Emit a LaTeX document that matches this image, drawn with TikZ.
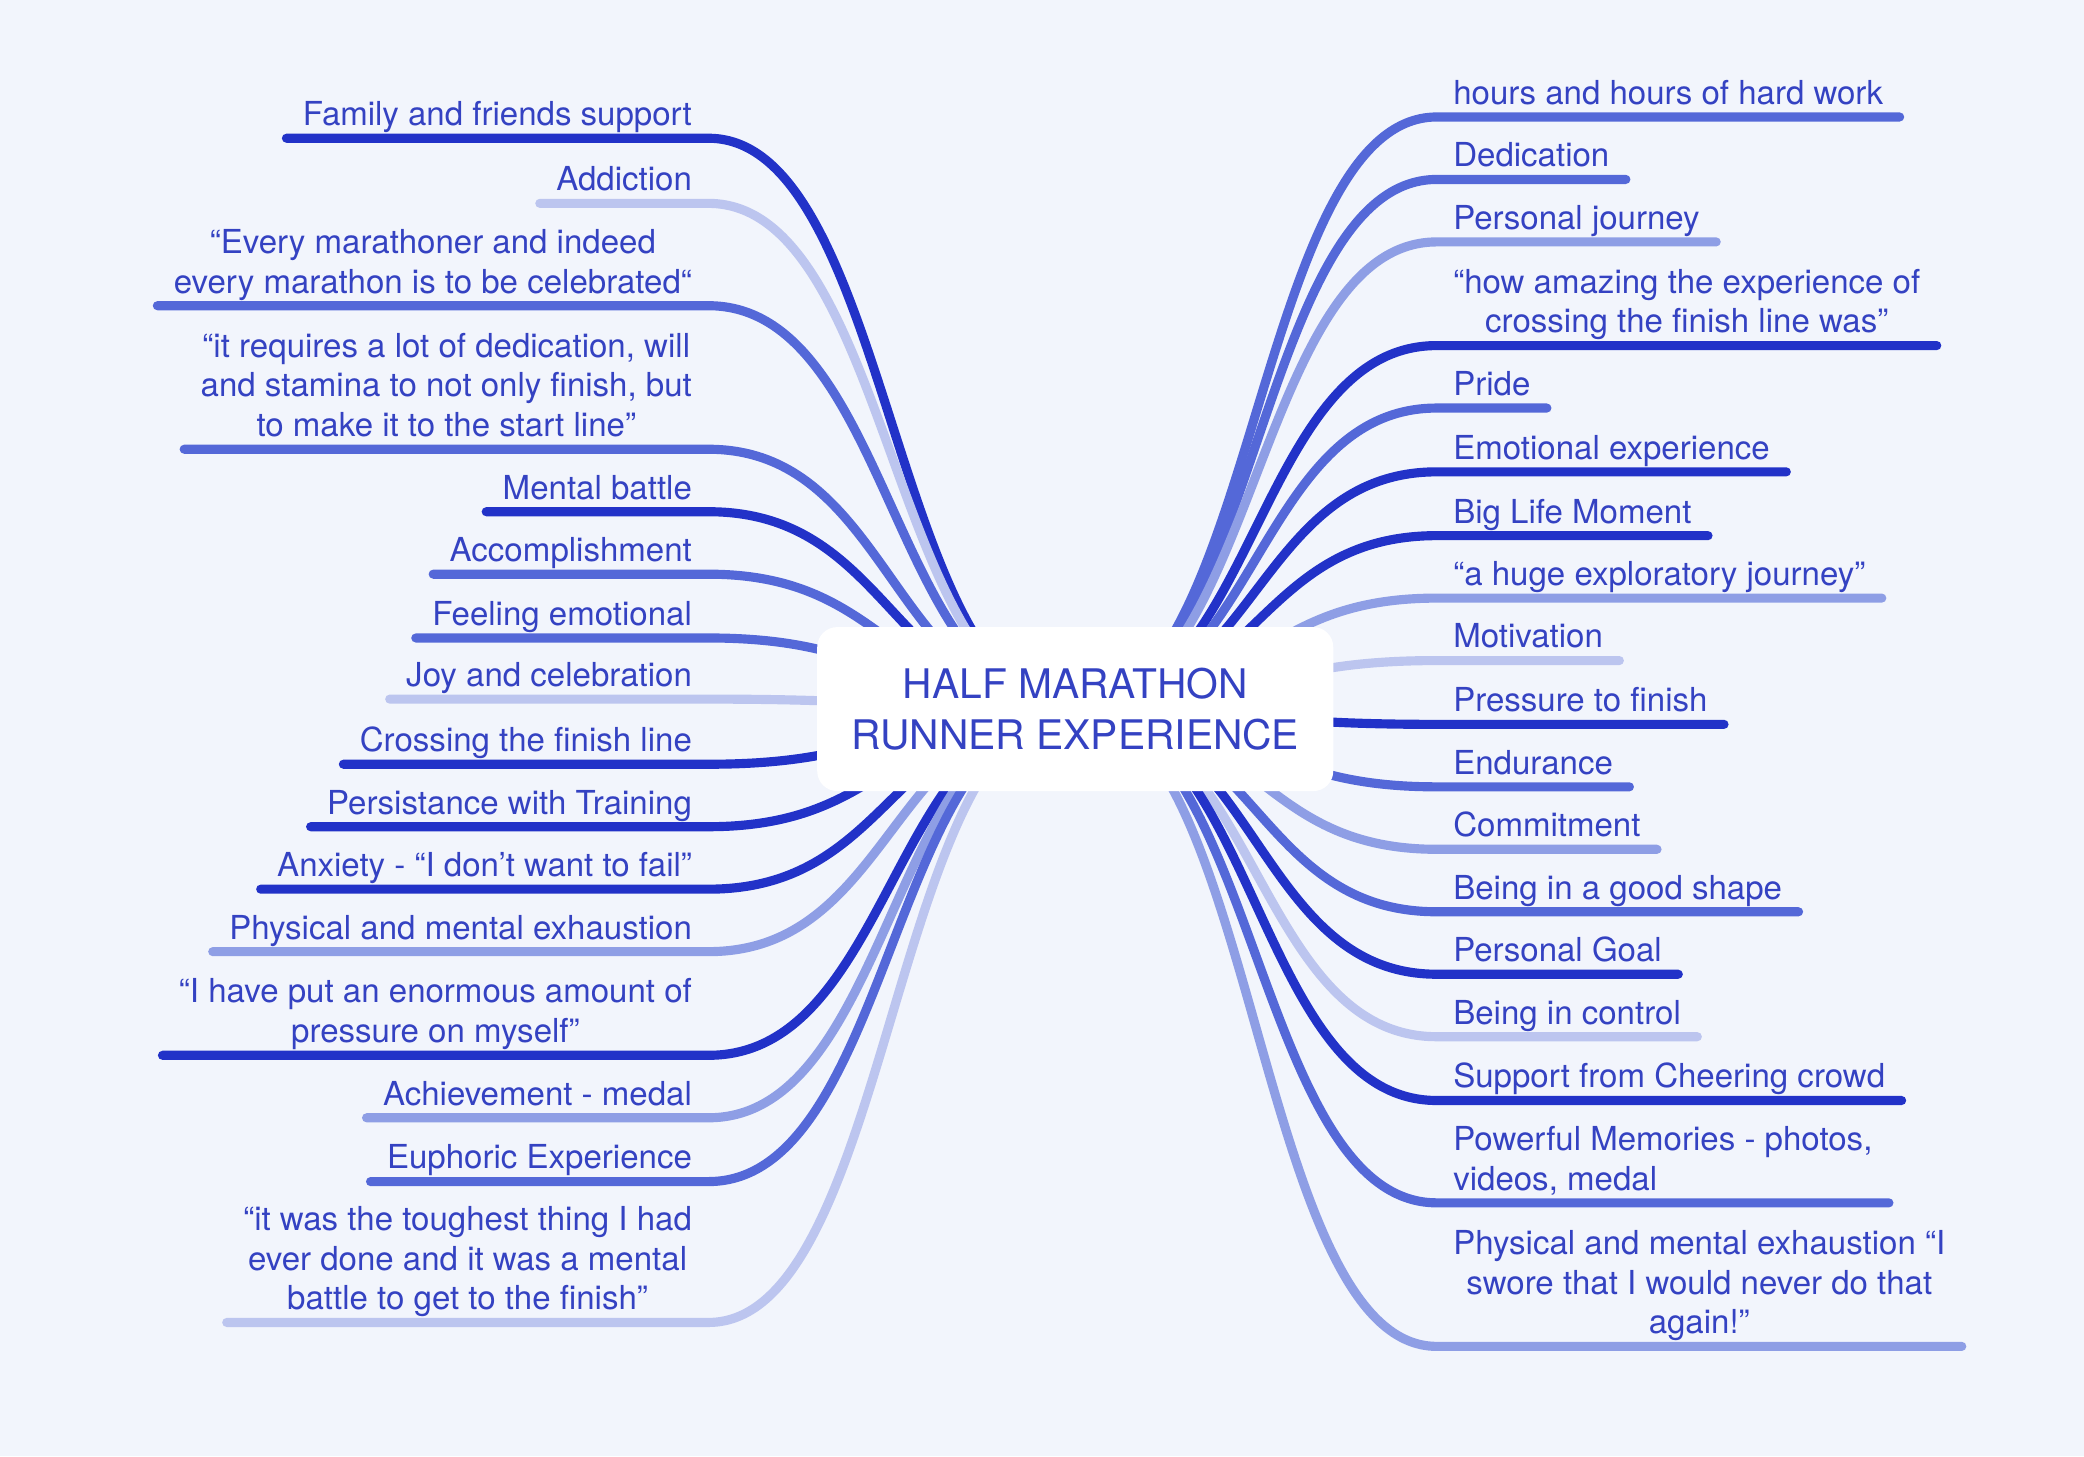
\documentclass[tikz,border=0pt]{standalone}
\usepackage{fontspec}
\setmainfont{TeX Gyre Heros}
\usepackage{xcolor}
\usetikzlibrary{positioning}
\definecolor{paper}{HTML}{F2F5FC}
\definecolor{ink}{HTML}{3442C2}
\definecolor{deep}{HTML}{2232C8}
\definecolor{mid}{HTML}{5468D8}
\definecolor{soft}{HTML}{8E9EE5}
\definecolor{pale}{HTML}{BCC5EF}
\pgfdeclarelayer{lines}
\pgfsetlayers{lines,main}
\tikzset{
hub/.style={fill=white, rounded corners=2mm, minimum width=51.6mm, minimum height=16.4mm, align=center, text=ink, font=\fontsize{11.6}{14.7}\selectfont},
leaf/.style={text=ink, align=center, inner xsep=4.5pt, inner ysep=0pt, font=\fontsize{9.4}{11.3}\selectfont, execute at end node=\strut},
lleaf/.style={leaf, anchor=south east},
rleaf/.style={leaf, anchor=south west},
branch/.style={line width=2.6pt, line cap=round},
deep line/.style={branch, draw=deep}, mid line/.style={branch, draw=mid},
soft line/.style={branch, draw=soft}, pale line/.style={branch, draw=pale}
}

\begin{document}
\begin{tikzpicture}[x=0.1329mm, y=-0.1329mm]
\useasboundingbox (0,0) rectangle (1568,1095.5);
\node[hub] (hub) at (809,533.5) {HALF MARATHON\\RUNNER EXPERIENCE};

\node[lleaf] (fam) at (533,104) {Family and friends support};
\node[lleaf] (addict) at (533,153) {Addiction};
\node[lleaf] (every) at (533,230) {“Every marathoner and indeed\\every marathon is to be celebrated“};
\node[lleaf] (req) at (533,338) {“it requires a lot of dedication, will\\and stamina to not only finish, but\\to make it to the start line”};
\node[lleaf] (mental) at (533,385) {Mental battle};
\node[lleaf] (accomp) at (533,432) {Accomplishment};
\node[lleaf] (feel) at (533,480) {Feeling emotional};
\node[lleaf] (joy) at (533,526) {Joy and celebration};
\node[lleaf] (cross) at (533,575) {Crossing the finish line};
\node[lleaf] (persist) at (533,622) {Persistance with Training};
\node[lleaf] (anx) at (533,669) {Anxiety - “I don’t want to fail”};
\node[lleaf] (exh) at (533,716) {Physical and mental exhaustion};
\node[lleaf] (press) at (533,794) {“I have put an enormous amount of\\pressure on myself”};
\node[lleaf] (achieve) at (533,841) {Achievement - medal};
\node[lleaf] (euph) at (533,889) {Euphoric Experience};
\node[lleaf] (tough) at (533,995) {“it was the toughest thing I had\\ever done and it was a mental\\battle to get to the finish”};

\node[rleaf] (hours) at (1081,88) {hours and hours of hard work};
\node[rleaf] (dedic) at (1081,135) {Dedication};
\node[rleaf] (journey) at (1081,182) {Personal journey};
\node[rleaf] (amazing) at (1081,260) {“how amazing the experience of\\crossing the finish line was”};
\node[rleaf] (pride) at (1081,307) {Pride};
\node[rleaf] (emo) at (1081,355) {Emotional experience};
\node[rleaf] (moment) at (1081,403) {Big Life Moment};
\node[rleaf] (explore) at (1081,450) {“a huge exploratory journey”};
\node[rleaf] (motiv) at (1081,497) {Motivation};
\node[rleaf] (pfinish) at (1081,545) {Pressure to finish};
\node[rleaf] (endur) at (1081,592) {Endurance};
\node[rleaf] (commit) at (1081,639) {Commitment};
\node[rleaf] (shape) at (1081,686) {Being in a good shape};
\node[rleaf] (goal) at (1081,733) {Personal Goal};
\node[rleaf] (control) at (1081,780) {Being in control};
\node[rleaf] (crowd) at (1081,828) {Support from Cheering crowd};
\node[rleaf, align=left] (memories) at (1081,905) {Powerful Memories - photos,\\videos, medal};
\node[rleaf] (swore) at (1081,1013) {Physical and mental exhaustion “I\\swore that I would never do that\\again!”};

\begin{pgfonlayer}{lines}
\fill[paper] (0,0) rectangle (1568,1095.5);
\draw[deep line] (hub.center) .. controls +(-138,0) and +(138,0) .. (fam.south east) -- (fam.south west);
\draw[pale line] (hub.center) .. controls +(-138,0) and +(138,0) .. (addict.south east) -- (addict.south west);
\draw[mid line] (hub.center) .. controls +(-138,0) and +(138,0) .. (every.south east) -- (every.south west);
\draw[mid line] (hub.center) .. controls +(-138,0) and +(138,0) .. (req.south east) -- (req.south west);
\draw[deep line] (hub.center) .. controls +(-138,0) and +(138,0) .. (mental.south east) -- (mental.south west);
\draw[mid line] (hub.center) .. controls +(-138,0) and +(138,0) .. (accomp.south east) -- (accomp.south west);
\draw[mid line] (hub.center) .. controls +(-138,0) and +(138,0) .. (feel.south east) -- (feel.south west);
\draw[pale line] (hub.center) .. controls +(-138,0) and +(138,0) .. (joy.south east) -- (joy.south west);
\draw[deep line] (hub.center) .. controls +(-138,0) and +(138,0) .. (cross.south east) -- (cross.south west);
\draw[deep line] (hub.center) .. controls +(-138,0) and +(138,0) .. (persist.south east) -- (persist.south west);
\draw[deep line] (hub.center) .. controls +(-138,0) and +(138,0) .. (anx.south east) -- (anx.south west);
\draw[soft line] (hub.center) .. controls +(-138,0) and +(138,0) .. (exh.south east) -- (exh.south west);
\draw[deep line] (hub.center) .. controls +(-138,0) and +(138,0) .. (press.south east) -- (press.south west);
\draw[soft line] (hub.center) .. controls +(-138,0) and +(138,0) .. (achieve.south east) -- (achieve.south west);
\draw[mid line] (hub.center) .. controls +(-138,0) and +(138,0) .. (euph.south east) -- (euph.south west);
\draw[pale line] (hub.center) .. controls +(-138,0) and +(138,0) .. (tough.south east) -- (tough.south west);

\draw[mid line] (hub.center) .. controls +(136,0) and +(-136,0) .. (hours.south west) -- (hours.south east);
\draw[mid line] (hub.center) .. controls +(136,0) and +(-136,0) .. (dedic.south west) -- (dedic.south east);
\draw[soft line] (hub.center) .. controls +(136,0) and +(-136,0) .. (journey.south west) -- (journey.south east);
\draw[deep line] (hub.center) .. controls +(136,0) and +(-136,0) .. (amazing.south west) -- (amazing.south east);
\draw[mid line] (hub.center) .. controls +(136,0) and +(-136,0) .. (pride.south west) -- (pride.south east);
\draw[deep line] (hub.center) .. controls +(136,0) and +(-136,0) .. (emo.south west) -- (emo.south east);
\draw[deep line] (hub.center) .. controls +(136,0) and +(-136,0) .. (moment.south west) -- (moment.south east);
\draw[soft line] (hub.center) .. controls +(136,0) and +(-136,0) .. (explore.south west) -- (explore.south east);
\draw[pale line] (hub.center) .. controls +(136,0) and +(-136,0) .. (motiv.south west) -- (motiv.south east);
\draw[deep line] (hub.center) .. controls +(136,0) and +(-136,0) .. (pfinish.south west) -- (pfinish.south east);
\draw[mid line] (hub.center) .. controls +(136,0) and +(-136,0) .. (endur.south west) -- (endur.south east);
\draw[soft line] (hub.center) .. controls +(136,0) and +(-136,0) .. (commit.south west) -- (commit.south east);
\draw[mid line] (hub.center) .. controls +(136,0) and +(-136,0) .. (shape.south west) -- (shape.south east);
\draw[deep line] (hub.center) .. controls +(136,0) and +(-136,0) .. (goal.south west) -- (goal.south east);
\draw[pale line] (hub.center) .. controls +(136,0) and +(-136,0) .. (control.south west) -- (control.south east);
\draw[deep line] (hub.center) .. controls +(136,0) and +(-136,0) .. (crowd.south west) -- (crowd.south east);
\draw[mid line] (hub.center) .. controls +(136,0) and +(-136,0) .. (memories.south west) -- (memories.south east);
\draw[soft line] (hub.center) .. controls +(136,0) and +(-136,0) .. (swore.south west) -- (swore.south east);
\end{pgfonlayer}
\end{tikzpicture}
\end{document}
